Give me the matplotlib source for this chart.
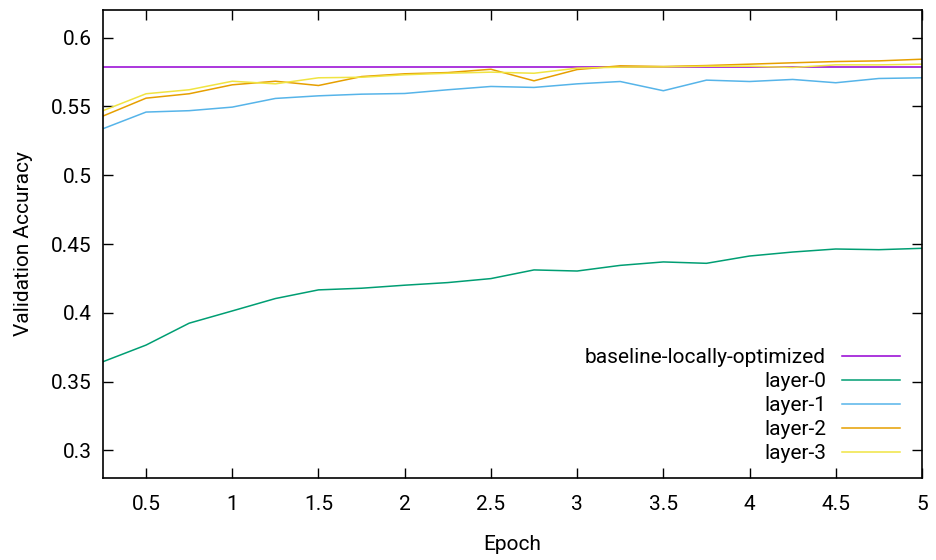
import matplotlib
matplotlib.use("Agg")
import matplotlib.pyplot as plt
import numpy as np

plt.rcParams['font.family'] = ['Roboto', 'DejaVu Sans']

epochs = [0.25, 0.5, 0.75, 1.0, 1.25, 1.5, 1.75, 2.0, 2.25, 2.5,
          2.75, 3.0, 3.25, 3.5, 3.75, 4.0, 4.25, 4.5, 4.75, 5.0]
baseline = 0.5783
layer0 = [0.3645, 0.3766, 0.3925, 0.4014, 0.4104, 0.4167, 0.4179, 0.4201, 0.4220, 0.4249,
          0.4312, 0.4304, 0.4345, 0.4370, 0.4360, 0.4413, 0.4442, 0.4464, 0.4459, 0.4469]
layer1 = [0.5338, 0.5459, 0.5469, 0.5495, 0.5558, 0.5577, 0.5589, 0.5594, 0.5621, 0.5645,
          0.5638, 0.5664, 0.5681, 0.5614, 0.5691, 0.5681, 0.5696, 0.5672, 0.5703, 0.5708]
layer2 = [0.5430, 0.5560, 0.5592, 0.5657, 0.5683, 0.5652, 0.5717, 0.5737, 0.5746, 0.5770,
          0.5686, 0.5768, 0.5795, 0.5790, 0.5797, 0.5807, 0.5817, 0.5826, 0.5831, 0.5843]
layer3 = [0.5469, 0.5592, 0.5621, 0.5683, 0.5664, 0.5708, 0.5712, 0.5730, 0.5741, 0.5749,
          0.5741, 0.5778, 0.5785, 0.5787, 0.5792, 0.5792, 0.5783, 0.5802, 0.5802, 0.5807]

xticks = [0.5, 1, 1.5, 2, 2.5, 3, 3.5, 4, 4.5, 5]
xticklabels = ['0.5', '1', '1.5', '2', '2.5', '3', '3.5', '4', '4.5', '5']
yticks = [0.3, 0.35, 0.4, 0.45, 0.5, 0.55, 0.6]
yticklabels = ['0.3', '0.35', '0.4', '0.45', '0.5', '0.55', '0.6']

fig = plt.figure(figsize=(9.36, 5.6), dpi=100)
ax = fig.add_axes([0.110, 0.1464, 0.875, 0.8356])

lw = 1.1
ax.axhline(baseline, color='#9400d3', lw=lw, label='baseline-locally-optimized')
ax.plot(epochs, layer0, color='#009e73', lw=lw, label='layer-0')
ax.plot(epochs, layer1, color='#56b4e9', lw=lw, label='layer-1')
ax.plot(epochs, layer2, color='#e69f00', lw=lw, label='layer-2')
ax.plot(epochs, layer3, color='#f0e442', lw=lw, label='layer-3')

fs = 15
ax.set_xlim(0.25, 5)
ax.set_ylim(0.28, 0.62)
ax.set_xticks(xticks)
ax.set_xticklabels(xticklabels)
ax.set_yticks(yticks)
ax.set_yticklabels(yticklabels)
ax.tick_params(direction='in', length=7, width=1.0, labelsize=fs,
               top=True, right=True)
ax.tick_params(axis='x', pad=12)
ax.tick_params(axis='y', pad=8)
for s in ax.spines.values():
    s.set_linewidth(1.2)

ax.set_xlabel('Epoch', fontsize=fs, labelpad=15)
ax.set_ylabel('Validation Accuracy', fontsize=fs, labelpad=13)

leg = ax.legend(loc='lower right', bbox_to_anchor=(0.973, 0.032), frameon=False,
                markerfirst=False, fontsize=fs, handlelength=2.8,
                handletextpad=0.75, labelspacing=0.24, borderpad=0, borderaxespad=0)

fig.savefig('out.png', dpi=100)
